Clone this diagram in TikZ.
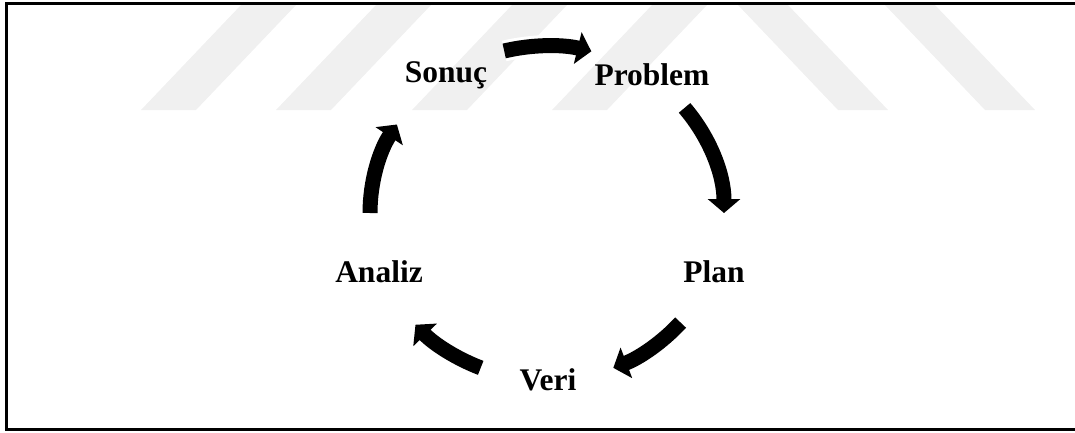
\documentclass[tikz,border=0pt]{standalone}
\usepackage{fontspec}
\setmainfont{Liberation Serif}
\usetikzlibrary{arrows.meta,calc}
\definecolor{wm}{HTML}{F0F0F0}
\begin{document}
\begin{tikzpicture}[x=1pt,y=-1pt,
  lbl/.style={font=\fontsize{31.5}{38}\selectfont\bfseries, anchor=base, inner sep=0pt},
  halo/.style={draw=white, line width=21pt, -{Triangle[width=38pt,length=17pt]}},
  cyc/.style={draw=black, line width=15pt, -{Triangle[width=32pt,length=14pt]}},
  band/.style={fill=wm, draw=none}]
\useasboundingbox (0,0) rectangle (1075,432);
\clip (0,0) rectangle (1075,432);
% watermark bands
\foreach \b in {141,276,412,552}
  \fill[band] (\b,110) -- (\b+55,110) -- (\b+155,5) -- (\b+100,5) -- cycle;
\foreach \b in {838,985}
  \fill[band] (\b,110) -- (\b+50,110) -- (\b-50,5) -- (\b-100,5) -- cycle;
% frame (right side lies outside the picture)
\draw[line width=3.2pt] (1090,3.5) -- (6.8,3.5) -- (6.8,429.5) -- (1090,429.5);
% cycle centre and arrow tails
\coordinate (C) at (547,213);
\coordinate (t1) at ([shift={(C)}] -104:177 and 167);
\coordinate (t2) at ([shift={(C)}] -39:177 and 167);
\coordinate (t3) at ([shift={(C)}] 41:177 and 167);
\coordinate (t4) at ([shift={(C)}] 112:177 and 167);
\coordinate (t5) at ([shift={(C)}] 180:177 and 167);
% arrows
\foreach \s/\a/\e in {t1/-104/-75.5, t2/-39/0, t3/41/68, t4/112/138, t5/180/212}{
  \draw[halo] (\s) arc[start angle=\a, end angle=\e, x radius=177, y radius=167];
  \draw[cyc] (\s) arc[start angle=\a, end angle=\e, x radius=177, y radius=167];
}
% labels
\node[lbl] (sonuc) at (446,82) {Sonuç};
\node[lbl] (problem) at (652,85) {Problem};
\node[lbl] (plan) at (714,282) {Plan};
\node[lbl] (veri) at (548,390) {Veri};
\node[lbl] (analiz) at (379,282) {Analiz};
\end{tikzpicture}
\end{document}
